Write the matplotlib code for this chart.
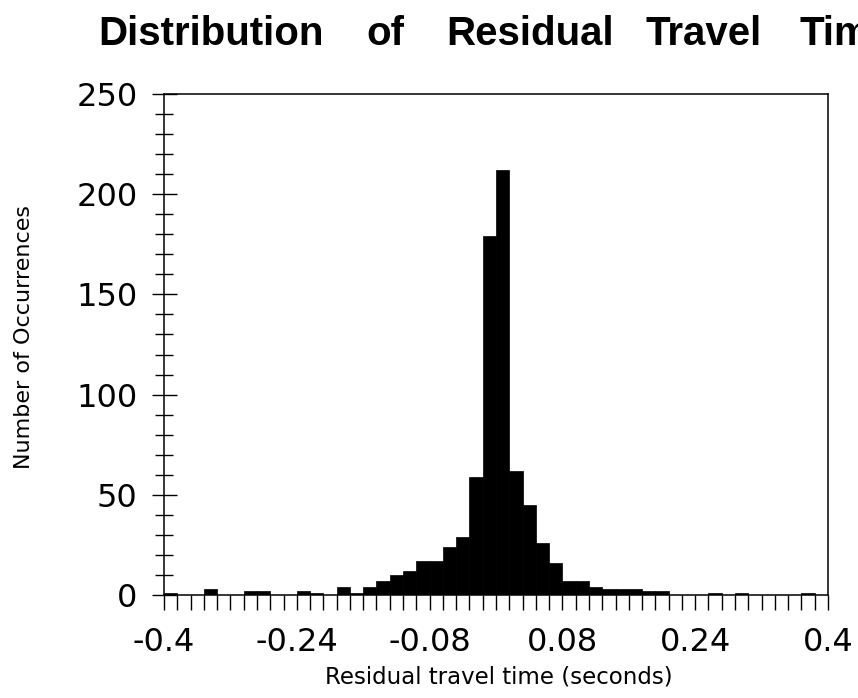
import matplotlib
matplotlib.use("Agg")
import matplotlib.pyplot as plt
import numpy as np

# Histogram of residual travel times, 50 bins of 0.016 s between -0.4 and 0.4
bin_left = -0.4
bin_width = 0.016
counts = [1, 0, 0, 3, 0, 0, 2, 2, 0, 0,
          2, 1, 0, 4, 1, 4, 7, 10, 12, 17,
          17, 24, 29, 59, 179, 212, 62, 45, 26, 16,
          7, 7, 4, 3, 3, 3, 2, 2, 0, 0,
          0, 1, 0, 1, 0, 0, 0, 0, 1, 0]
x_tick_values = [-0.4, -0.24, -0.08, 0.08, 0.24, 0.4]
x_tick_labels = ["-0.4", "-0.24", "-0.08", "0.08", "0.24", "0.4"]
y_tick_values = [0, 50, 100, 150, 200, 250]

# title words are spaced out widely in the original
title_words = ["Distribution", "of", "Residual", "Travel", "Time"]
title_word_x = [98, 366, 446, 646, 799]
x_label = "Residual travel time (seconds)"
y_label = "Number of Occurrences"

edges = bin_left + bin_width * np.arange(len(counts) + 1)

fig = plt.figure(figsize=(8.58, 6.98), dpi=100)
ax = fig.add_axes([164 / 858, 103 / 698, 664 / 858, 501 / 698])

# Solid black bars
ax.bar(edges[:-1], counts, width=bin_width, align="edge",
       color="black", edgecolor="black", linewidth=0.5)

ax.set_xlim(-0.4, 0.4)
ax.set_ylim(0, 250)

# X ticks: one per bin edge, labels every tenth edge
ax.set_xticks(x_tick_values)
ax.set_xticklabels(x_tick_labels)
ax.set_xticks(edges, minor=True)
ax.tick_params(axis="x", which="both", direction="out", length=11, width=1.0,
               top=False, color="black")
ax.tick_params(axis="x", which="major", pad=12, labelsize=23)

# Y ticks cross the axis line
ax.set_yticks(y_tick_values)
ax.set_yticks(np.arange(0, 251, 10), minor=True)
ax.tick_params(axis="y", which="major", direction="inout", length=18, width=1.0,
               pad=10, labelsize=23, right=False)
ax.tick_params(axis="y", which="minor", direction="inout", length=13, width=1.0,
               right=False)

for lab in ax.get_xticklabels() + ax.get_yticklabels():
    lab.set_family("DejaVu Sans")

for side in ["left", "right", "top", "bottom"]:
    ax.spines[side].set_linewidth(1.1)
    ax.spines[side].set_color("black")

# Title sits at top-left and runs off the right edge like the original
for word, px in zip(title_words, title_word_x):
    fig.text(px / 858, 1 - 45 / 698, word, ha="left", va="baseline",
             fontsize=29, fontweight="bold", family="Liberation Sans")

fig.text(499 / 858, 1 - 683 / 698, x_label, ha="center", va="baseline",
         fontsize=16.5, family="DejaVu Sans")
fig.text(24.5 / 858, 1 - 337 / 698, y_label, ha="center", va="center",
         rotation=90, fontsize=16, family="DejaVu Sans")

fig.savefig("out.png", dpi=100)
